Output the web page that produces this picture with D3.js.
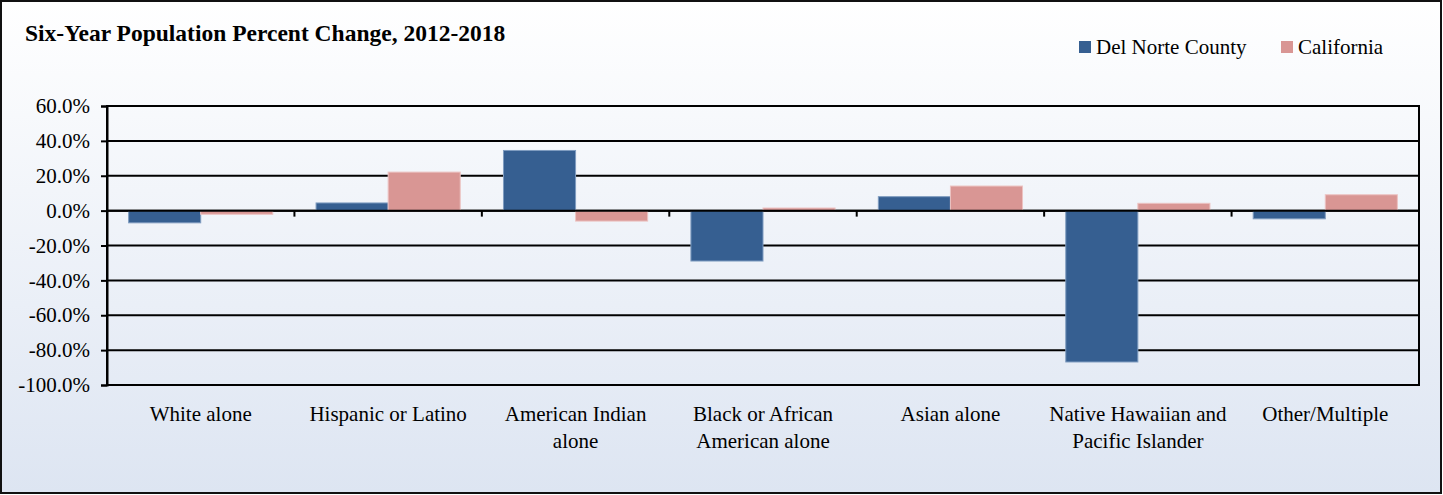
<!DOCTYPE html>
<html>
<head>
<meta charset="utf-8">
<script src="https://cdn.jsdelivr.net/npm/d3@7"></script>
<style>
  html, body { margin: 0; padding: 0; background: #fff; }
  svg { display: block; }
</style>
</head>
<body>
<svg id="chart" width="1443" height="495"></svg>
<script>
// Six-year percent change by race / ethnicity
const categories = [
  ["White alone"],
  ["Hispanic or Latino"],
  ["American Indian", "alone"],
  ["Black or African", "American alone"],
  ["Asian alone"],
  ["Native Hawaiian and", "Pacific Islander"],
  ["Other/Multiple"]
];
const seriesNames = ["Del Norte County", "California"];
const delNorte   = [-7.0, 4.4, 34.5, -28.9, 8.0, -86.8, -4.7];
const california = [-2.1, 22.1, -6.0, 1.5, 14.1, 4.2, 9.1];
const yTicks = [60, 40, 20, 0, -20, -40, -60, -80, -100];
const colors = ["#365f91", "#d99694"];

const FONT = "'Liberation Serif', 'Times New Roman', Times, serif";
const W = 1443, H = 495;
const plot = { left: 107, right: 1419, top: 106, bottom: 385 };

const svg = d3.select("#chart");
const defs = svg.append("defs");
const grad = defs.append("linearGradient")
  .attr("id", "bg").attr("x1", 0).attr("y1", 0).attr("x2", 0).attr("y2", 1);
grad.append("stop").attr("offset", "0%").attr("stop-color", "#ffffff");
grad.append("stop").attr("offset", "100%").attr("stop-color", "#dde5f2");

// Chart area background and frame
svg.append("rect")
  .attr("x", 1).attr("y", 1).attr("width", W - 3).attr("height", H - 3)
  .attr("fill", "url(#bg)").attr("stroke", "#111").attr("stroke-width", 2);

// Title
svg.append("text")
  .attr("x", 25).attr("y", 41)
  .style("font-family", FONT).style("font-size", "23.5px").style("font-weight", "bold")
  .attr("fill", "#000")
  .text("Six-Year Population Percent Change, 2012-2018");

// Scales
const keys = categories.map(c => c.join(" "));
const x = d3.scaleBand().domain(keys).range([plot.left, plot.right]).padding(0);
const xSub = d3.scaleBand().domain(seriesNames).range([0, x.bandwidth()])
  .paddingInner(0).paddingOuter(0.3);
const y = d3.scaleLinear().domain([-100, 60]).range([plot.bottom, plot.top]);

// Horizontal gridlines
svg.append("g")
  .selectAll("line")
  .data(yTicks)
  .join("line")
  .attr("x1", plot.left).attr("x2", plot.right)
  .attr("y1", d => y(d)).attr("y2", d => y(d))
  .attr("stroke", "#000").attr("stroke-width", 2);

// Plot border
svg.append("rect")
  .attr("x", plot.left).attr("y", plot.top)
  .attr("width", plot.right - plot.left).attr("height", plot.bottom - plot.top)
  .attr("fill", "none").attr("stroke", "#000").attr("stroke-width", 2);

// Bars
const rows = keys.map((k, i) => ({ key: k, values: [delNorte[i], california[i]] }));
const groups = svg.append("g").selectAll("g")
  .data(rows)
  .join("g")
  .attr("transform", d => `translate(${x(d.key)},0)`);

groups.selectAll("rect")
  .data(d => d.values.map((v, j) => ({ name: seriesNames[j], value: v, j })))
  .join("rect")
  .attr("x", d => xSub(d.name))
  .attr("width", xSub.bandwidth())
  .attr("y", d => y(Math.max(0, d.value)))
  .attr("height", d => Math.abs(y(d.value) - y(0)))
  .attr("fill", d => colors[d.j])
  .attr("stroke", d => d.j === 0 ? "#7f9cc0" : "#ecc3c2")
  .attr("stroke-width", 1);

// Zero axis line
svg.append("line")
  .attr("x1", plot.left).attr("x2", plot.right)
  .attr("y1", y(0)).attr("y2", y(0))
  .attr("stroke", "#000").attr("stroke-width", 2);

// Y axis
const yAxis = d3.axisLeft(y)
  .tickValues(yTicks)
  .tickSize(6)
  .tickPadding(11)
  .tickFormat(d => d.toFixed(1) + "%");
const yg = svg.append("g").attr("transform", `translate(${plot.left},0)`).call(yAxis);
yg.attr("font-family", null).attr("font-size", null);
yg.select(".domain").attr("stroke", "#000").attr("stroke-width", 2);
yg.selectAll(".tick line").attr("stroke", "#000").attr("stroke-width", 2);
yg.selectAll(".tick text")
  .style("font-family", FONT).style("font-size", "21px")
  .attr("fill", "#000");

// Category tick marks on the zero line
svg.append("g").selectAll("line")
  .data(keys.slice(1))
  .join("line")
  .attr("x1", d => x(d)).attr("x2", d => x(d))
  .attr("y1", y(0)).attr("y2", y(0) + 6)
  .attr("stroke", "#000").attr("stroke-width", 2);

// Category labels
const labels = svg.append("g").selectAll("text")
  .data(categories)
  .join("text")
  .attr("text-anchor", "middle")
  .style("font-family", FONT).style("font-size", "21px")
  .attr("fill", "#000")
  .attr("transform", (d, i) => `translate(${x(keys[i]) + x.bandwidth() / 2},421)`);
labels.selectAll("tspan")
  .data(d => d)
  .join("tspan")
  .attr("x", 0)
  .attr("y", (d, i) => i * 27)
  .text(d => d);

// Legend
const legendX = [1079, 1281];
const legend = svg.append("g").selectAll("g")
  .data(seriesNames)
  .join("g")
  .attr("transform", (d, i) => `translate(${legendX[i]},41)`);
legend.append("rect")
  .attr("width", 12).attr("height", 12)
  .attr("fill", (d, i) => colors[i]);
legend.append("text")
  .attr("x", 17).attr("y", 13)
  .style("font-family", FONT).style("font-size", "21px")
  .attr("fill", "#000")
  .text(d => d);
</script>
</body>
</html>
